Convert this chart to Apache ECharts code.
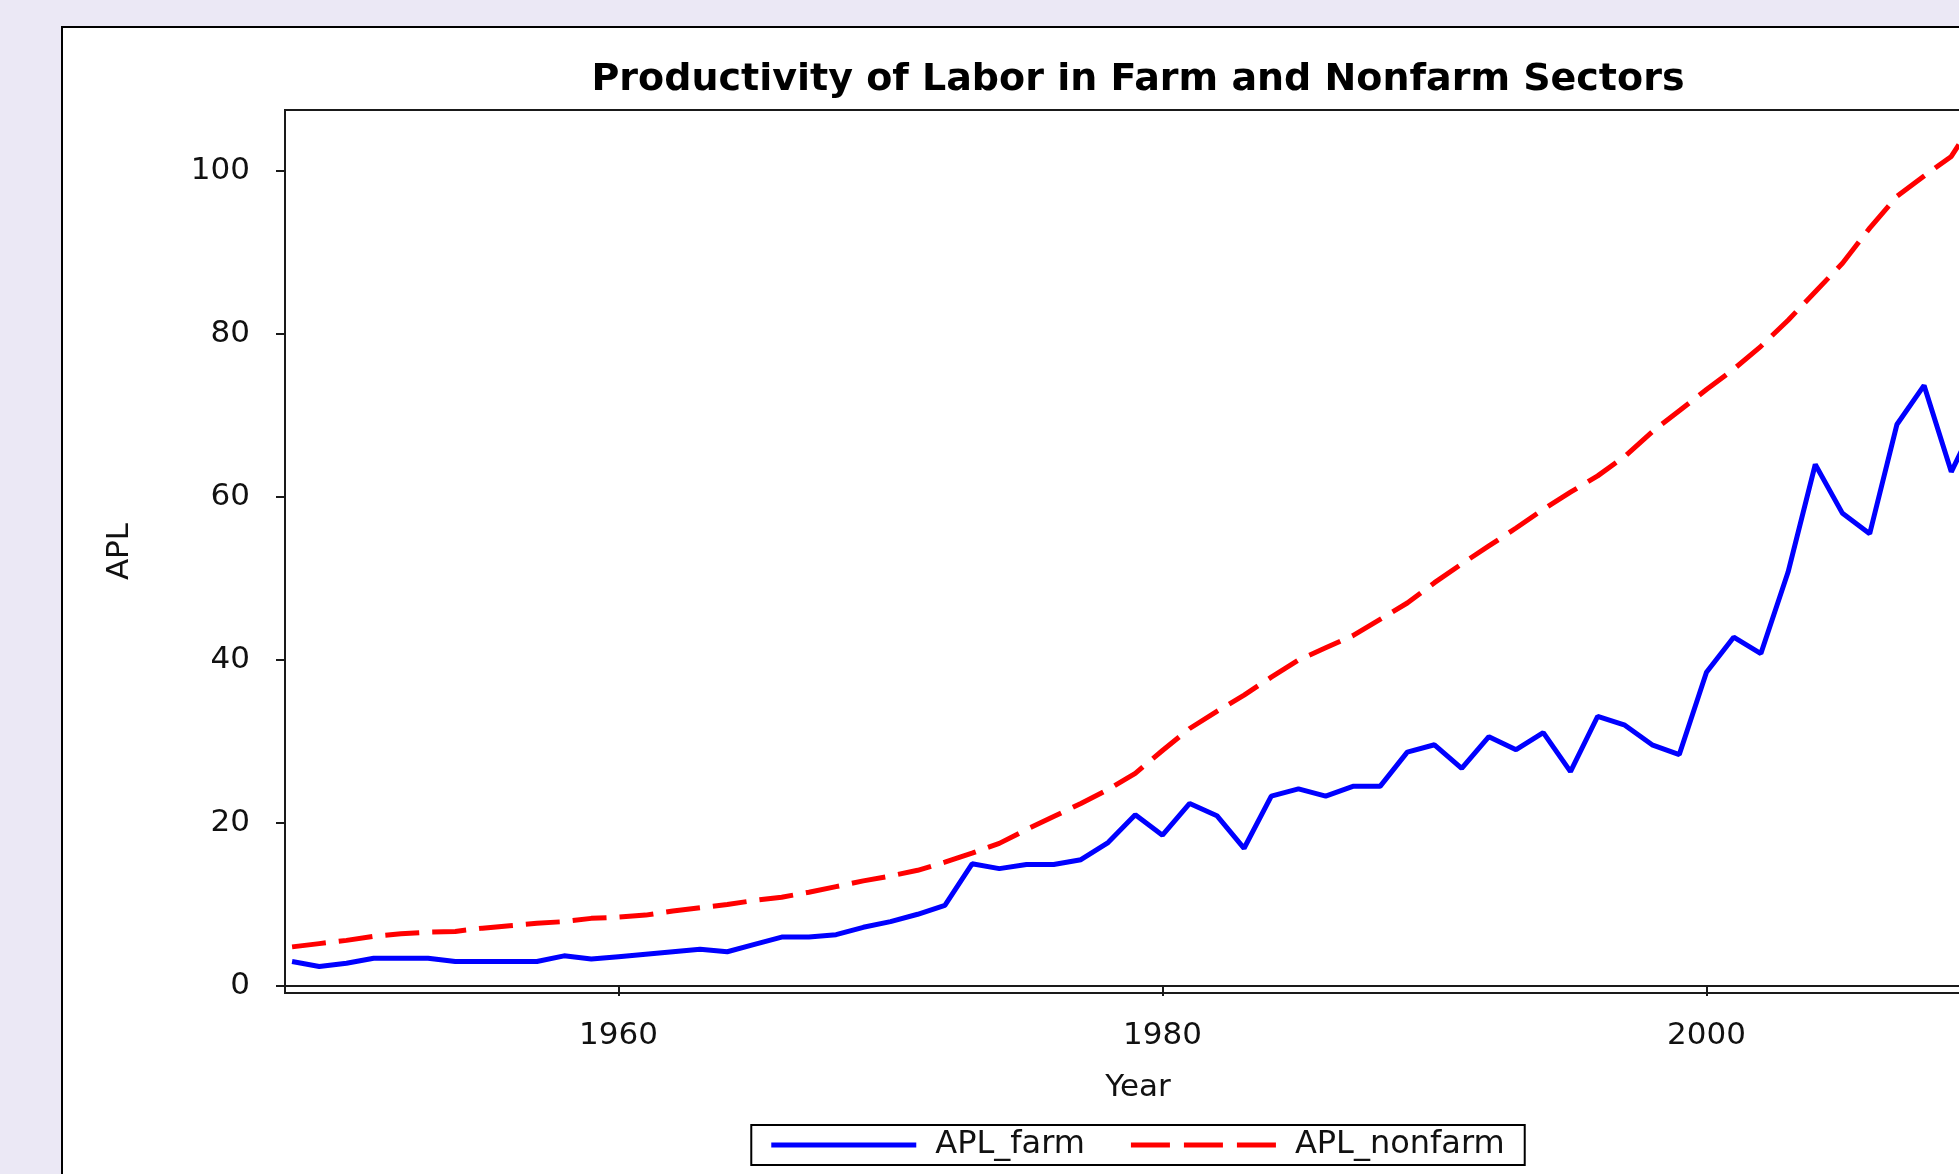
<!DOCTYPE html>
<html>
<head>
<meta charset="utf-8">
<script src="https://cdn.jsdelivr.net/npm/echarts@6/dist/echarts.min.js"></script>
<style>
  html, body { margin: 0; padding: 0; width: 1959px; height: 1174px; overflow: hidden; background: #EBE8F5; }
  #panel { position: absolute; left: 61px; top: 26px; width: 2150px; height: 1300px; border: 2px solid #000; background: #fff; }
  #chart { width: 2150px; height: 1300px; }
</style>
</head>
<body>
<div id="panel"><div id="chart"></div></div>
<script>
const years = [1948,1949,1950,1951,1952,1953,1954,1955,1956,1957,1958,1959,
  1960,1961,1962,1963,1964,1965,1966,1967,1968,1969,1970,1971,1972,1973,1974,
  1975,1976,1977,1978,1979,1980,1981,1982,1983,1984,1985,1986,1987,1988,1989,
  1990,1991,1992,1993,1994,1995,1996,1997,1998,1999,2000,2001,2002,2003,2004,
  2005,2006,2007,2008,2009,2010];
const aplFarm = [3.0,2.4,2.8,3.4,3.4,3.4,3.0,3.0,3.0,3.0,3.7,3.3,
  3.6,3.9,4.2,4.5,4.2,5.1,6.0,6.0,6.3,7.2,7.9,8.8,9.9,15.0,14.4,
  14.9,14.9,15.5,17.6,21.0,18.5,22.4,20.9,16.9,23.3,24.2,23.3,24.5,24.5,28.7,
  29.6,26.7,30.6,29.0,31.1,26.3,33.1,32.0,29.6,28.4,38.5,42.8,40.8,50.8,64.0,
  58.0,55.5,68.9,73.7,63.1,70.0];
const aplNonfarm = [4.8,5.2,5.6,6.1,6.4,6.6,6.7,7.1,7.4,7.7,7.9,8.3,
  8.45,8.7,9.2,9.6,10.0,10.5,10.9,11.5,12.2,12.9,13.5,14.2,15.2,16.3,17.5,
  19.2,20.8,22.4,24.1,26.1,28.9,31.6,33.7,35.7,37.9,40.0,41.5,43.0,45.0,47.0,
  49.5,51.8,54.0,56.2,58.5,60.6,62.6,65.0,68.0,70.6,73.2,75.7,78.5,81.7,85.2,
  88.7,93.0,96.9,99.4,101.8,107.0];
const yTicks = [0,20,40,60,80,100];
const xTicks = [1960,1980,2000];
const seriesNames = ['APL_farm','APL_nonfarm'];
const titleText = 'Productivity of Labor in Farm and Nonfarm Sectors';

const FONT = 'DejaVu Sans';
const chart = echarts.init(document.getElementById('chart'), null, {renderer: 'canvas'});
const pairs = (vals) => years.map((y, i) => [y, vals[i]]);
const axisCol = '#1a1a1a';

chart.setOption({
  animation: false,
  backgroundColor: '#fff',
  title: {
    text: titleText, left: 'center', top: 28,
    textStyle: { fontFamily: FONT, fontWeight: 'bold', fontSize: 38, color: '#000' }
  },
  grid: {
    left: 222, top: 82, width: 1706, height: 883,
    show: true, borderColor: axisCol, borderWidth: 2, backgroundColor: 'transparent'
  },
  legend: {
    data: [
      { name: seriesNames[0], icon: 'path://M0 0H145V5H0Z' },
      { name: seriesNames[1], icon: 'path://M0 0H39V5H0Z M53 0H92V5H53Z M106 0H145V5H106Z' }
    ],
    left: 'center', top: 1097,
    borderColor: '#000', borderWidth: 2, padding: [4, 20, 4, 20],
    itemWidth: 145, itemHeight: 5, itemGap: 46,
    textStyle: { fontFamily: FONT, fontSize: 32, color: '#111', padding: [0, 12, 0, 14] }
  },
  xAxis: {
    type: 'value', min: 1947.74, max: 2010.46,
    name: 'Year', nameLocation: 'middle', nameGap: 79,
    nameTextStyle: { fontFamily: FONT, fontSize: 31, color: '#111' },
    axisLine: { show: true, lineStyle: { color: axisCol, width: 2 } },
    axisTick: { show: true, customValues: xTicks, length: 10, lineStyle: { color: axisCol, width: 2 } },
    axisLabel: { customValues: xTicks, margin: 27, fontFamily: FONT, fontSize: 31, color: '#111',
      formatter: v => String(v) },
    splitLine: { show: false }
  },
  yAxis: {
    type: 'value', min: -0.86, max: 107.5,
    name: 'APL', nameLocation: 'middle', nameGap: 150,
    nameTextStyle: { fontFamily: FONT, fontSize: 31, color: '#111' },
    axisLine: { show: true, lineStyle: { color: axisCol, width: 2 } },
    axisTick: { show: true, customValues: yTicks, length: 9, lineStyle: { color: axisCol, width: 2 } },
    axisLabel: { customValues: yTicks, margin: 35, fontFamily: FONT, fontSize: 31, color: '#111',
      formatter: v => String(v) },
    splitLine: { show: false }
  },
  series: [
    { name: seriesNames[0], type: 'line', data: pairs(aplFarm), symbol: 'none',
      lineStyle: { color: '#0000FF', width: 5, type: 'solid' }, itemStyle: { color: '#0000FF' } },
    { name: seriesNames[1], type: 'line', data: pairs(aplNonfarm), symbol: 'none',
      lineStyle: { color: '#FF0000', width: 5, type: [34, 13] }, itemStyle: { color: '#FF0000' } }
  ]
});
</script>
</body>
</html>
